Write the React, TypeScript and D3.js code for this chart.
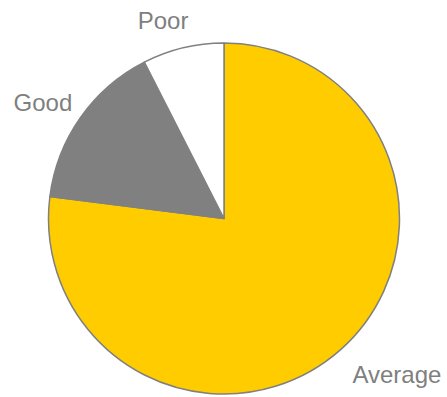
import React from "react";
import * as d3 from "d3";

const categories = ["Average", "Good", "Poor"];
const values = [77, 15.5, 7.5];
const colors = ["#FFCC00", "#808080", "#FFFFFF"];

const W = 447;
const H = 397;
const cx = 224;
const cy = 218.5;
const r = 175.5;

// small label nudges (Excel-style outside-end placement)
const nudges: Record<string, [number, number]> = {
  Average: [37, 2],
  Good: [-13, 2],
  Poor: [-13, 2],
};

export default function App() {
  const data = categories.map((c, i) => ({ c, v: values[i], col: colors[i] }));
  const pie = d3.pie<any>().value((d) => d.v).sort(null);
  const arcs = pie(data);
  const arc = d3.arc<any>().innerRadius(0).outerRadius(r);
  const labelArc = d3.arc<any>().innerRadius(r + 30).outerRadius(r + 30);
  return (
    <svg
      width={W}
      height={H}
      style={{ position: "absolute", left: 0, top: 0 }}
      fontFamily="'Liberation Sans', Arial, sans-serif"
    >
      <rect width={W} height={H} fill="#fff" />
      <g transform={`translate(${cx},${cy})`}>
        {arcs.map((a, i) => (
          <path
            key={i}
            d={arc(a) || ""}
            fill={a.data.col}
            stroke="#808080"
            strokeWidth={1.5}
            strokeLinejoin="round"
          />
        ))}
        {arcs.map((a, i) => {
          const [x, y] = labelArc.centroid(a);
          const [nx, ny] = nudges[a.data.c];
          return (
            <text
              key={"l" + i}
              x={x + nx}
              y={y + ny}
              textAnchor="middle"
              dominantBaseline="central"
              fontSize={24}
              fill="#7f7f7f"
            >
              {a.data.c}
            </text>
          );
        })}
      </g>
    </svg>
  );
}
